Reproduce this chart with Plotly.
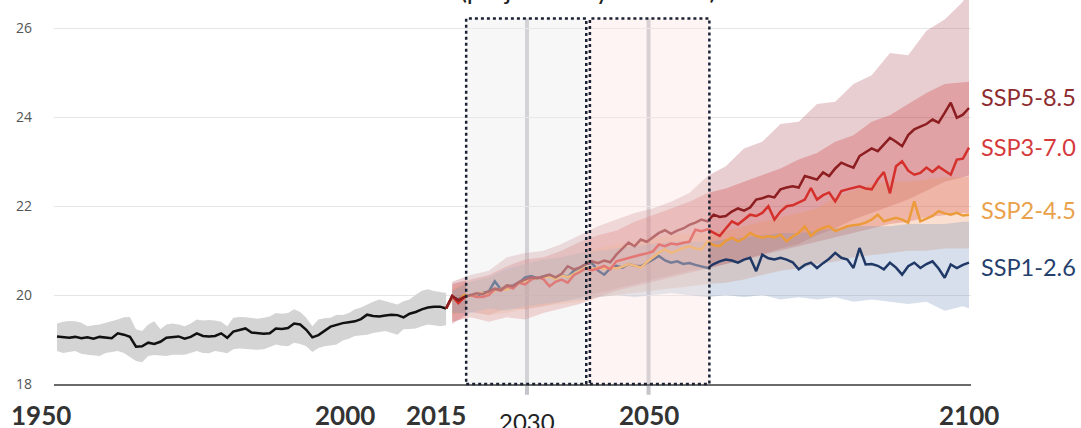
import plotly.graph_objects as go

# ---------------- data ----------------
HIST_YEARS = list(range(1950, 2015))
HIST = [19.07, 19.05, 19.04, 19.06, 19.03, 19.05, 19.02, 19.06, 19.04, 19.03,
        19.14, 19.11, 19.06, 18.84, 18.85, 18.93, 18.90, 18.95, 19.04, 19.06,
        19.07, 19.02, 19.06, 19.14, 19.08, 19.07, 19.08, 19.14, 19.04, 19.18,
        19.22, 19.25, 19.16, 19.15, 19.13, 19.14, 19.25, 19.24, 19.26, 19.36,
        19.34, 19.22, 19.05, 19.10, 19.20, 19.29, 19.33, 19.37, 19.39, 19.41,
        19.46, 19.56, 19.53, 19.52, 19.54, 19.56, 19.55, 19.50, 19.58, 19.62,
        19.68, 19.72, 19.74, 19.74, 19.70]
HIST_HI = [19.36, 19.40, 19.42, 19.41, 19.38, 19.30, 19.32, 19.34, 19.38, 19.41,
           19.45, 19.50, 19.51, 19.23, 19.19, 19.34, 19.41, 19.23, 19.34, 19.36,
           19.34, 19.30, 19.36, 19.45, 19.43, 19.44, 19.43, 19.40, 19.30, 19.49,
           19.51, 19.50, 19.49, 19.47, 19.49, 19.52, 19.60, 19.58, 19.60, 19.68,
           19.62, 19.49, 19.30, 19.45, 19.48, 19.49, 19.56, 19.55, 19.60, 19.68,
           19.72, 19.79, 19.85, 19.90, 19.86, 19.82, 19.79, 19.86, 19.90, 20.01,
           20.10, 20.13, 20.09, 20.07, 20.05]
HIST_LO = [18.74, 18.70, 18.72, 18.74, 18.68, 18.66, 18.64, 18.63, 18.70, 18.72,
           18.74, 18.70, 18.62, 18.52, 18.49, 18.63, 18.65, 18.64, 18.63, 18.66,
           18.66, 18.66, 18.70, 18.74, 18.70, 18.69, 18.74, 18.72, 18.69, 18.78,
           18.80, 18.79, 18.78, 18.77, 18.78, 18.83, 18.89, 18.86, 18.85, 18.93,
           18.90, 18.85, 18.72, 18.81, 18.85, 18.87, 18.89, 18.98, 19.02, 19.08,
           19.10, 19.11, 19.15, 19.17, 19.19, 19.15, 19.11, 19.23, 19.24, 19.25,
           19.30, 19.34, 19.32, 19.30, 19.32]

PROJ_YEARS = list(range(2015, 2101))
SSP126 = [19.96, 19.90, 19.98, 20.00, 19.97, 20.05, 20.08, 20.31, 20.13, 20.18,
          20.22, 20.28, 20.40, 20.43, 20.38, 20.42, 20.45, 20.38, 20.46, 20.40,
          20.55, 20.62, 20.70, 20.72, 20.55, 20.46, 20.60, 20.66, 20.62, 20.70,
          20.66, 20.65, 20.72, 20.80, 20.88, 20.78, 20.73, 20.76, 20.70, 20.72,
          20.68, 20.65, 20.61, 20.70, 20.76, 20.80, 20.78, 20.73, 20.80, 20.84,
          20.54, 20.91, 20.83, 20.80, 20.84, 20.80, 20.74, 20.58, 20.68, 20.73,
          20.61, 20.72, 20.82, 20.95, 20.84, 20.80, 20.61, 21.06, 20.69, 20.70,
          20.66, 20.58, 20.73, 20.62, 20.46, 20.65, 20.73, 20.61, 20.70, 20.76,
          20.60, 20.39, 20.69, 20.61, 20.68, 20.73]
SSP245 = [19.95, 19.88, 20.00, 19.98, 20.02, 20.05, 20.02, 20.10, 20.14, 20.12,
          20.20, 20.26, 20.32, 20.36, 20.38, 20.40, 20.42, 20.36, 20.45, 20.40,
          20.48, 20.55, 20.62, 20.58, 20.62, 20.60, 20.62, 20.60, 20.64, 20.70,
          20.66, 20.62, 20.74, 20.85, 20.96, 21.03, 20.95, 21.00, 21.06, 21.10,
          21.05, 21.03, 21.21, 21.12, 21.10, 21.22, 21.29, 21.21, 21.28, 21.40,
          21.33, 21.29, 21.33, 21.30, 21.36, 21.21, 21.32, 21.40, 21.55, 21.33,
          21.45, 21.51, 21.55, 21.44, 21.50, 21.55, 21.57, 21.59, 21.63, 21.70,
          21.81, 21.66, 21.70, 21.74, 21.70, 21.63, 22.11, 21.66, 21.72, 21.78,
          21.89, 21.84, 21.81, 21.85, 21.79, 21.81]
SSP370 = [19.98, 19.82, 19.95, 20.00, 19.96, 19.96, 20.00, 20.13, 20.10, 20.20,
          20.15, 20.28, 20.24, 20.35, 20.40, 20.36, 20.20, 20.30, 20.35, 20.28,
          20.45, 20.52, 20.60, 20.56, 20.60, 20.66, 20.58, 20.76, 20.80, 20.84,
          20.88, 20.91, 20.94, 20.98, 21.14, 21.10, 21.16, 21.14, 21.18, 21.20,
          21.47, 21.44, 21.48, 21.40, 21.33, 21.50, 21.66, 21.59, 21.70, 21.81,
          21.78, 21.85, 22.00, 21.70, 21.88, 22.00, 22.02, 22.08, 22.15, 22.41,
          22.15, 22.25, 22.31, 22.11, 22.34, 22.38, 22.42, 22.45, 22.40, 22.38,
          22.60, 22.77, 22.29, 22.90, 23.01, 22.80, 22.71, 22.75, 22.87, 22.77,
          22.89, 22.80, 22.71, 23.05, 23.07, 23.32]
SSP585 = [19.98, 19.88, 19.96, 20.00, 20.04, 20.02, 20.08, 20.15, 20.12, 20.22,
          20.20, 20.30, 20.35, 20.40, 20.38, 20.42, 20.46, 20.40, 20.48, 20.65,
          20.58, 20.62, 20.70, 20.76, 20.72, 20.78, 20.74, 20.91, 21.05, 21.18,
          21.10, 21.25, 21.20, 21.30, 21.40, 21.46, 21.38, 21.45, 21.50, 21.58,
          21.63, 21.70, 21.66, 21.81, 21.76, 21.78, 21.88, 21.95, 21.90, 21.97,
          22.15, 22.18, 22.23, 22.20, 22.38, 22.42, 22.45, 22.42, 22.68, 22.64,
          22.60, 22.76, 22.68, 22.85, 22.98, 22.92, 22.87, 23.13, 23.22, 23.30,
          23.24, 23.40, 23.54, 23.45, 23.35, 23.60, 23.73, 23.79, 23.85, 23.95,
          23.88, 24.10, 24.33, 23.99, 24.06, 24.21]

BAND_YEARS = list(range(2015, 2100, 3)) + [2100]
SSP585_HI = [20.30, 20.45, 20.55, 20.85, 20.95, 21.00, 21.15, 21.35, 21.55, 21.70,
             21.85, 21.95, 22.10, 22.30, 22.68, 22.90, 23.30, 23.45, 23.85, 23.90,
             24.30, 24.35, 24.75, 24.95, 25.45, 25.40, 25.95, 26.20, 26.60, 26.90]
SSP585_LO = [19.35, 19.62, 19.55, 19.70, 19.68, 19.75, 19.85, 19.95, 20.05, 20.15,
             20.25, 20.35, 20.45, 20.55, 20.60, 20.70, 20.80, 20.92, 21.05, 21.15,
             21.35, 21.50, 21.70, 21.85, 22.00, 22.15, 22.35, 22.55, 22.65, 22.70]
SSP370_HI = [20.25, 20.35, 20.45, 20.65, 20.80, 20.85, 21.00, 21.20, 21.35, 21.45,
             21.65, 21.80, 21.95, 22.10, 22.30, 22.40, 22.55, 22.70, 22.85, 23.05,
             23.20, 23.45, 23.60, 23.90, 24.05, 24.30, 24.55, 24.75, 24.80, 24.80]
SSP370_LO = [19.40, 19.50, 19.40, 19.50, 19.45, 19.60, 19.70, 19.80, 19.95, 20.10,
             20.20, 20.30, 20.40, 20.50, 20.60, 20.70, 20.78, 20.90, 21.00, 21.10,
             21.20, 21.30, 21.40, 21.50, 21.60, 21.65, 21.75, 21.80, 21.85, 21.85]
SSP245_HI = [20.15, 20.30, 20.40, 20.55, 20.70, 20.80, 20.85, 20.95, 21.05, 21.15,
             21.20, 21.30, 21.35, 21.40, 21.40, 21.45, 21.55, 21.65, 21.75, 21.85,
             21.95, 22.20, 22.35, 22.50, 22.55, 22.55, 22.60, 22.65, 22.65, 22.65]
SSP245_LO = [19.55, 19.65, 19.55, 19.60, 19.70, 19.75, 19.80, 19.85, 19.95, 20.00,
             20.05, 20.10, 20.15, 20.20, 20.25, 20.28, 20.35, 20.45, 20.55, 20.60,
             20.70, 20.75, 20.85, 20.90, 20.95, 21.00, 21.00, 21.05, 21.05, 21.05]
SSP126_HI = [20.10, 20.30, 20.40, 20.60, 20.70, 20.80, 20.85, 20.95, 21.00, 21.05,
             21.10, 21.15, 21.20, 21.20, 21.20, 21.25, 21.30, 21.35, 21.40, 21.40,
             21.45, 21.50, 21.55, 21.55, 21.55, 21.60, 21.60, 21.60, 21.65, 21.65]
SSP126_LO = [19.60, 19.60, 19.70, 19.65, 19.75, 19.80, 19.85, 19.90, 19.95, 20.00,
             19.95, 20.00, 20.05, 20.00, 19.95, 20.00, 19.95, 20.00, 19.90, 19.95,
             19.90, 19.95, 19.85, 19.90, 19.85, 19.80, 19.85, 19.65, 19.75, 19.70]

SCENARIO_NAMES = ["SSP5-8.5", "SSP3-7.0", "SSP2-4.5", "SSP1-2.6"]
SCENARIO_LINES = [SSP585, SSP370, SSP245, SSP126]
SCENARIO_HI = [SSP585_HI, SSP370_HI, SSP245_HI, SSP126_HI]
SCENARIO_LO = [SSP585_LO, SSP370_LO, SSP245_LO, SSP126_LO]
LABEL_Y = [24.46, 23.33, 21.92, 20.63]

Y_TICKS = [18, 20, 22, 24, 26]
X_LABELS = ["1950", "2000", "2015", "2030", "2050", "2100"]
WINDOWS = [(2020, 2040), (2040, 2060)]
MARK_YEARS = [2030, 2050]
TITLE_TEXT = "(projected by scenario)"

# ---------------- style ----------------
LINE_COLORS = ["#8c1d20", "#d5302b", "#ec9b3b", "#1f3865"]
LABEL_COLORS = ["#8e2b2f", "#d6393b", "#e9a14c", "#26406d"]
BAND_COLORS = ["rgba(165,60,70,0.25)", "rgba(205,60,60,0.30)",
               "rgba(240,150,100,0.30)", "rgba(120,150,190,0.30)"]
OVERLAY_SHIFT = -2.7   # the window overlay sits slightly left of the data grid
X_RANGE = [1949.51, 2100.33]
Y_RANGE = [18, 18 + 384 / 44.44]


def xpaper(year):
    return (year - X_RANGE[0]) / (X_RANGE[1] - X_RANGE[0])


fig = go.Figure()

fig.add_trace(go.Scatter(x=HIST_YEARS + HIST_YEARS[::-1], y=HIST_HI + HIST_LO[::-1],
                         fill="toself", fillcolor="rgb(212,212,212)",
                         line=dict(width=0), hoverinfo="skip", mode="lines"))

for name, hi, lo, col in zip(SCENARIO_NAMES, SCENARIO_HI, SCENARIO_LO, BAND_COLORS):
    fig.add_trace(go.Scatter(x=BAND_YEARS + BAND_YEARS[::-1], y=hi + lo[::-1],
                             fill="toself", fillcolor=col, line=dict(width=0),
                             hoverinfo="skip", mode="lines"))

fig.add_trace(go.Scatter(x=HIST_YEARS, y=HIST, mode="lines",
                         line=dict(color="#111111", width=2.5)))

for name, vals, col in reversed(list(zip(SCENARIO_NAMES, SCENARIO_LINES, LINE_COLORS))):
    fig.add_trace(go.Scatter(x=[HIST_YEARS[-1]] + PROJ_YEARS, y=[HIST[-1]] + vals,
                             mode="lines", line=dict(color=col, width=2.5), name=name))

shapes = []
for yr in MARK_YEARS:
    shapes.append(dict(type="line", xref="x", yref="paper", layer="between",
                       x0=yr + OVERLAY_SHIFT, x1=yr + OVERLAY_SHIFT, y0=-0.028, y1=0.952,
                       line=dict(color="rgb(196,196,202)", width=4)))
win_fill = ["rgba(235,235,235,0.4)", "rgba(250,228,225,0.4)"]
for (a, b), fc in zip(WINDOWS, win_fill):
    shapes.append(dict(type="rect", xref="x", yref="paper", layer="above",
                       x0=a + OVERLAY_SHIFT, x1=b + OVERLAY_SHIFT, y0=0, y1=0.952,
                       fillcolor=fc, line=dict(width=0)))
for i, (a, b) in enumerate(WINDOWS):
    shapes.append(dict(type="rect", xref="x", yref="paper", layer="above",
                       x0=a + OVERLAY_SHIFT + (0 if i == 0 else 0.35),
                       x1=b + OVERLAY_SHIFT + (-0.25 if i == 0 else 0),
                       y0=0, y1=0.952, fillcolor="rgba(0,0,0,0)",
                       line=dict(color="#1b2233", width=2.5, dash="dot")))

annotations = []
for name, y, col in zip(SCENARIO_NAMES, LABEL_Y, LABEL_COLORS):
    annotations.append(dict(x=1.0087, xref="paper", y=y, yref="y", text=name,
                            showarrow=False, xanchor="left", yanchor="middle",
                            font=dict(family="Lato", size=23.5, color=col)))
for lab in X_LABELS:
    yr = int(lab)
    xpos = xpaper(yr if lab == "2100" else yr + OVERLAY_SHIFT)
    if lab == "2030":
        annotations.append(dict(x=xpos, xref="paper", y=-0.055, yref="paper", text=lab,
                                showarrow=False, xanchor="center", yanchor="top",
                                font=dict(family="Lato", size=24, color="#222222")))
    else:
        annotations.append(dict(x=xpos, xref="paper", y=-0.033, yref="paper", text=lab,
                                showarrow=False, xanchor="center", yanchor="top",
                                font=dict(family="Lato", size=26, color="#333333",
                                          weight="bold")))
annotations.append(dict(x=(458 - 54) / 917, xref="paper", y=0.983, yref="paper",
                        text=TITLE_TEXT, showarrow=False,
                        xanchor="left", yanchor="bottom",
                        font=dict(family="Lato", size=26, color="#222222")))

fig.update_layout(
    width=1081, height=428,
    margin=dict(l=54, r=110, t=0, b=44),
    paper_bgcolor="white", plot_bgcolor="white",
    showlegend=False,
    shapes=shapes, annotations=annotations,
    xaxis=dict(range=X_RANGE, showgrid=False, zeroline=False, showticklabels=False,
               showline=True, linecolor="#6b6b6b", linewidth=1.5, ticks=""),
    yaxis=dict(range=Y_RANGE, tickvals=Y_TICKS, showgrid=True, gridcolor="#e6e6e6",
               gridwidth=1, zeroline=False, ticks="", ticklabelstandoff=21,
               tickfont=dict(family="Open Sans", size=14, color="#555555")),
)

fig.write_html("out.html", config={"displayModeBar": False},
               post_script="document.body.style.margin='0';document.body.style.overflow='hidden';")
